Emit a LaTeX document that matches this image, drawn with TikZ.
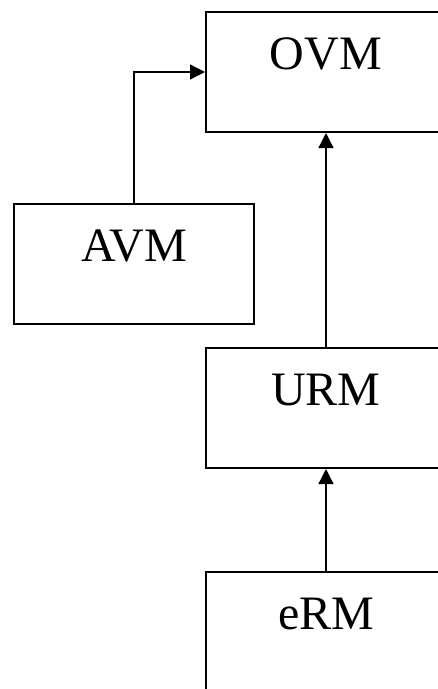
\documentclass[tikz,border=0pt]{standalone}
\usepackage{fontspec}
\setmainfont{Liberation Serif}
\usetikzlibrary{arrows.meta}
\begin{document}
\begin{tikzpicture}[x=1pt,y=-1pt,
  block/.style={draw, line width=2pt, rectangle, inner sep=0pt,
    minimum width=240pt, text height=57pt, text depth=63pt,
    font=\fontsize{48}{48}\selectfont, anchor=north west},
  link/.style={line width=1.3pt, -{Triangle[length=15pt,width=15pt]}}]
\useasboundingbox (0,0) rectangle (438,689);
\clip (0,0) rectangle (438,689);
% model blocks
\node[block] (ovm) at (205,11) {OVM};
\node[block] (avm) at (13,203) {AVM};
\node[block] (urm) at (205,347) {URM};
\node[block] (erm) at (205,571) {eRM};
% dependencies
\draw[link] (avm.north) |- (ovm.west);
\draw[link] (urm.north) -- (ovm.south);
\draw[link] (erm.north) -- (urm.south);
\end{tikzpicture}
\end{document}
